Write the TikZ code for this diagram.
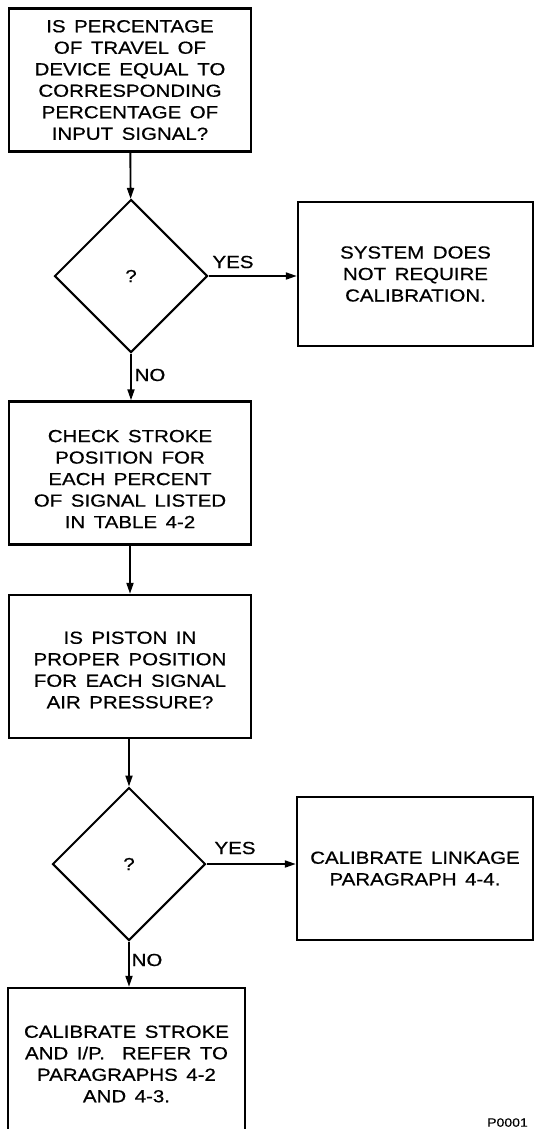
\documentclass[tikz,border=0pt]{standalone}
\usepackage{fontspec}
\setmainfont{Liberation Sans}[FakeStretch=1.17,WordSpace=1.5,FakeBold=0.6]
\usetikzlibrary{shapes.geometric,arrows.meta}
\begin{document}
\begin{tikzpicture}[x=1pt,y=-1pt,
  font=\fontsize{17.5}{21.5}\selectfont,
  box/.style={draw,line width=2.4pt,inner sep=0pt,align=center,minimum width=242pt,minimum height=143pt},
  dec/.style={draw,diamond,line width=2pt,inner sep=0pt,minimum width=153pt,minimum height=153pt},
  arr/.style={line width=1.9pt,-{Triangle[length=11pt,width=7pt]}},
  lab/.style={inner sep=0pt}]
\useasboundingbox (0,0) rectangle (534,1129);
\clip (0,0) rectangle (534,1129);
\node[box] (b1) at (130,80) {IS PERCENTAGE\\OF TRAVEL OF\\DEVICE EQUAL TO\\CORRESPONDING\\PERCENTAGE OF\\INPUT SIGNAL?};
\node[dec] (d1) at (131,276) {?};
\node[box,minimum width=235pt,minimum height=144pt] (b2) at (415.5,274) {SYSTEM DOES\\NOT REQUIRE\\CALIBRATION.};
\node[box] (b3) at (130,473) {};
\node[lab,align=center] (t3) at (130,479) {CHECK STROKE\\POSITION FOR\\EACH PERCENT\\OF SIGNAL LISTED\\IN TABLE 4-2};
\node[box] (b4) at (130,666.5) {};
\node[lab,align=center] (t4) at (130,670) {IS PISTON IN\\PROPER POSITION\\FOR EACH SIGNAL\\AIR PRESSURE?};
\node[dec] (d2) at (129,864) {?};
\node[box,minimum width=236pt,minimum height=143pt] (b5) at (415,868.5) {CALIBRATE LINKAGE\\PARAGRAPH 4-4.};
\node[box,minimum width=237pt,minimum height=152pt] (b6) at (126.5,1064) {CALIBRATE STROKE\\AND I/P.\ \ REFER TO\\PARAGRAPHS 4-2\\AND 4-3.};
\node[lab] (y1) at (233,262) {YES};
\node[lab] (n1) at (150,375) {NO};
\node[lab] (y2) at (235,848) {YES};
\node[lab] (n2) at (147,960) {NO};
\node[lab,anchor=south west,font=\fontsize{12}{14}\selectfont] (pid) at (487,1127) {P0001};
\draw[arr] (b1) -- (d1);
\draw[arr] (d1.east) -- (d1.east -| b2.west);
\draw[arr] (d1.south) -- (b3.north -| d1.south);
\draw[arr] (b3) -- (b4);
\draw[arr] (b4.south -| d2.north) -- (d2.north);
\draw[arr] (d2.east) -- (d2.east -| b5.west);
\draw[arr] (d2.south) -- (b6.north -| d2.south);
\end{tikzpicture}
\end{document}
